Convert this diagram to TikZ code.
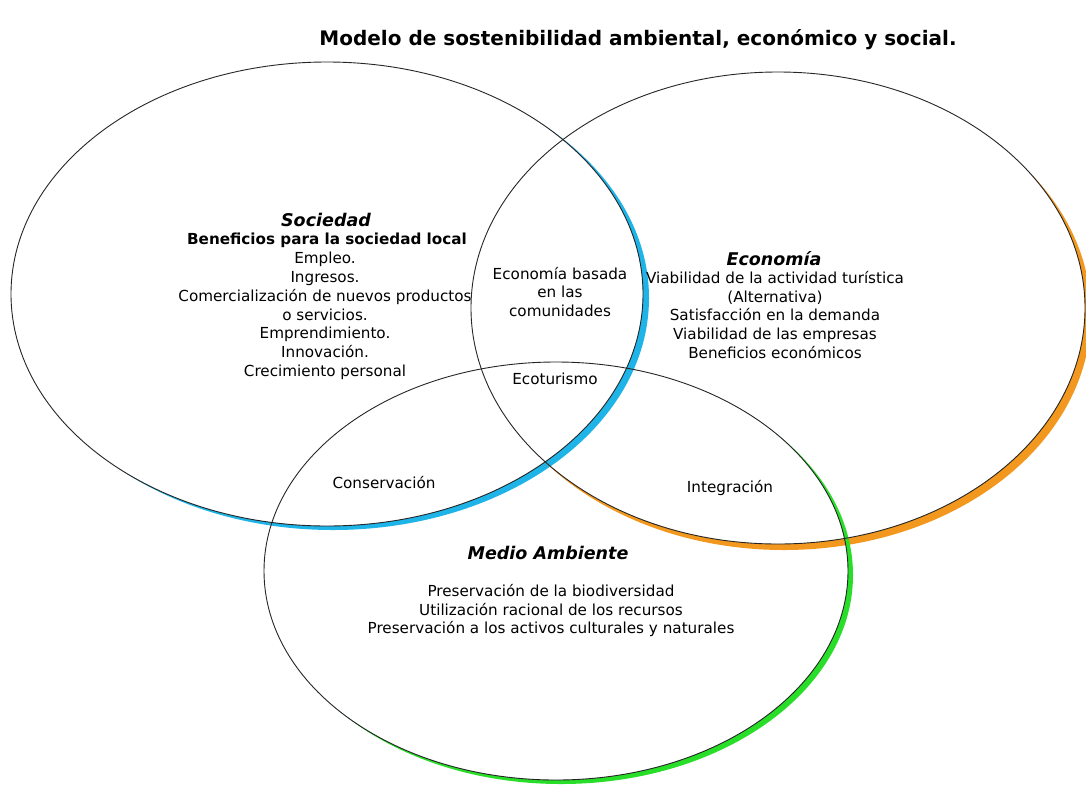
\documentclass[tikz,border=0pt]{standalone}
\usepackage{fontspec}
\setmainfont{DejaVu Sans}
\definecolor{socblue}{RGB}{30,180,232}
\definecolor{ecoorange}{RGB}{242,152,30}
\definecolor{envgreen}{RGB}{40,222,40}
\tikzset{
  circ/.style={draw=black!85, line width=0.9pt},
  txt/.style={align=center, font=\fontsize{15.2}{18.8}\selectfont, inner sep=0pt},
  head/.style={align=center, font=\fontsize{17.5}{20}\selectfont\bfseries\itshape, inner sep=0pt},
}
\begin{document}
\begin{tikzpicture}[x=1pt,y=-1pt]
\useasboundingbox[fill=white] (0,0) rectangle (1086,785);
% shadows (crescents)
\begin{scope}[even odd rule]
  \clip (-20,-20) rectangle (1110,810) (327,294) ellipse [x radius=316, y radius=232];
  \fill[socblue] (333,298) ellipse [x radius=316, y radius=232];
\end{scope}
\begin{scope}[even odd rule]
  \clip (-20,-20) rectangle (1110,810) (778,308) ellipse [x radius=307, y radius=236];
  \fill[ecoorange] (784,314) ellipse [x radius=307, y radius=236];
\end{scope}
\begin{scope}[even odd rule]
  \clip (-20,-20) rectangle (1110,810) (556,571) ellipse [x radius=292, y radius=209];
  \fill[envgreen] (561,575) ellipse [x radius=292, y radius=209];
\end{scope}
% ellipses
\draw[circ] (327,294) ellipse [x radius=316, y radius=232];
\draw[circ] (778,308) ellipse [x radius=307, y radius=236];
\draw[circ] (556,571) ellipse [x radius=292, y radius=209];
% title
\node[font=\fontsize{20}{24}\selectfont\bfseries, inner sep=0pt] (title) at (638,40) {Modelo de sostenibilidad ambiental, económico y social.};
% Sociedad
\node[head] (soch) at (326,220) {Sociedad};
\node[align=center, font=\fontsize{15.2}{18.8}\selectfont\bfseries, inner sep=0pt] (socsub) at (327,240) {Beneficios para la sociedad local};
\node[txt, anchor=north] (soct) at (325,252) {Empleo.\\Ingresos.\\Comercialización de nuevos productos\\o servicios.\\Emprendimiento.\\Innovación.\\Crecimiento personal};
% intersections
\node[txt] (ecocom) at (560,292) {Economía basada\\en las\\comunidades};
\node[txt] (ecotur) at (555,379) {Ecoturismo};
\node[txt] (cons) at (384,483) {Conservación};
\node[txt] (integ) at (730,488) {Integración};
% Economia
\node[head] (ecoh) at (774,259) {Economía};
\node[txt, anchor=north] (ecot) at (775,271) {Viabilidad de la actividad turística\\(Alternativa)\\Satisfacción en la demanda\\Viabilidad de las empresas\\Beneficios económicos};
% Medio ambiente
\node[head] (envh) at (548,553) {Medio Ambiente};
\node[txt, anchor=north] (envt) at (551,584) {Preservación de la biodiversidad\\Utilización racional de los recursos\\Preservación a los activos culturales y naturales};
\end{tikzpicture}
\end{document}
